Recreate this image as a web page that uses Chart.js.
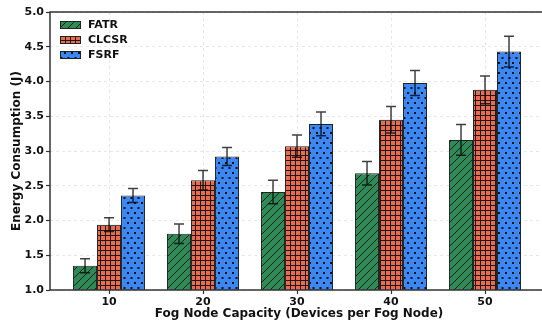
<!DOCTYPE html>
<html>
<head>
<meta charset="utf-8">
<script src="https://cdn.jsdelivr.net/npm/chart.js@4/dist/chart.umd.min.js"></script>
<style>
html,body{margin:0;padding:0;background:#fff;overflow:hidden;width:542px;height:326px;}
canvas{display:block;}
</style>
</head>
<body>
<canvas id="c" width="552" height="326"></canvas>
<script>
// ---- data ----
const categories = ['10', '20', '30', '40', '50'];
const seriesNames = ['FATR', 'CLCSR', 'FSRF'];
const fatr  = [1.35, 1.81, 2.41, 2.68, 3.16];
const clcsr = [1.94, 2.58, 3.07, 3.45, 3.88];
const fsrf  = [2.36, 2.92, 3.39, 3.98, 4.43];
const fatrErr  = [0.10, 0.14, 0.17, 0.17, 0.22];
const clcsrErr = [0.10, 0.14, 0.16, 0.19, 0.20];
const fsrfErr  = [0.10, 0.13, 0.17, 0.18, 0.22];
const yTicks = [1.0, 1.5, 2.0, 2.5, 3.0, 3.5, 4.0, 4.5, 5.0];

// ---- patterns ----
function makePattern(kind, color) {
  const t = document.createElement('canvas');
  const g = t.getContext('2d');
  if (kind === 'diag') {
    t.width = 8; t.height = 8;
    g.fillStyle = color; g.fillRect(0,0,8,8);
    g.strokeStyle = '#111'; g.lineWidth = 0.9;
    g.beginPath();
    g.moveTo(0,8); g.lineTo(8,0);
    g.moveTo(-4,4); g.lineTo(4,-4);
    g.moveTo(4,12); g.lineTo(12,4);
    g.stroke();
  } else if (kind === 'grid') {
    t.width = 5; t.height = 5;
    g.fillStyle = color; g.fillRect(0,0,5,5);
    g.fillStyle = '#1a1a1a';
    g.fillRect(0,0,1,5);
    g.fillRect(0,0,5,1);
  } else {
    t.width = 7; t.height = 10;
    g.fillStyle = color; g.fillRect(0,0,7,10);
    g.fillStyle = '#111';
    g.fillRect(1,2,2,2);
    g.fillRect(4.5,7,2,2);
  }
  return g.createPattern(t, 'repeat');
}
const ctx0 = document.getElementById('c').getContext('2d');
const baseColors = ['#2e8b57', '#ec6a4e', '#3b88f5'];
const kinds = ['diag', 'grid', 'dots'];
const patterns = kinds.map((k,i) => makePattern(k, baseColors[i]));

const values = [fatr, clcsr, fsrf];
const errors = [fatrErr, clcsrErr, fsrfErr];

const datasets = seriesNames.map((name, s) => ({
  label: name,
  data: values[s].map((v, i) => ({x: i, y: v})),
  errs: errors[s],
  backgroundColor: patterns[s],
  borderColor: '#222',
  borderWidth: 1,
  borderSkipped: 'bottom',
  categoryPercentage: 0.766,
  barPercentage: 1.0
}));

const FONT = "'DejaVu Sans', sans-serif";

const errorBars = {
  id: 'errorBars',
  afterDatasetsDraw(chart) {
    const c = chart.ctx, ys = chart.scales.y;
    c.save();
    c.strokeStyle = 'rgba(0,0,0,0.75)';
    c.lineWidth = 1.5;
    chart.data.datasets.forEach((ds, di) => {
      const meta = chart.getDatasetMeta(di);
      meta.data.forEach((bar, i) => {
        const v = ds.data[i].y, e = ds.errs[i];
        const yt = ys.getPixelForValue(v + e), yb = ys.getPixelForValue(v - e);
        const x = bar.x;
        c.beginPath();
        c.moveTo(x, yt); c.lineTo(x, yb);
        c.moveTo(x - 5, yt); c.lineTo(x + 5, yt);
        c.moveTo(x - 5, yb); c.lineTo(x + 5, yb);
        c.stroke();
      });
    });
    c.restore();
  }
};

const frame = {
  id: 'frame',
  afterDraw(chart) {
    const c = chart.ctx, a = chart.chartArea;
    c.save();
    c.strokeStyle = '#333';
    c.lineWidth = 1.5;
    c.strokeRect(a.left, a.top, a.right - a.left, a.bottom - a.top);
    // legend
    c.font = "bold 11px " + FONT;
    c.textBaseline = 'middle';
    c.textAlign = 'left';
    chart.data.datasets.forEach((ds, i) => {
      const yc = 25 + i * 15;
      c.fillStyle = ds.backgroundColor;
      c.fillRect(60, yc - 4, 20, 8);
      c.lineWidth = 1;
      c.strokeStyle = '#222';
      c.strokeRect(60.5, yc - 3.5, 20, 7);
      c.fillStyle = '#111';
      c.fillText(ds.label, 88, yc + 0.5);
    });
    c.restore();
  }
};

new Chart(ctx0, {
  type: 'bar',
  data: { datasets },
  options: {
    responsive: false,
    animation: false,
    devicePixelRatio: 1,
    layout: { padding: { left: 0, right: 4, top: 12, bottom: 0 } },
    plugins: { legend: { display: false }, tooltip: { enabled: false } },
    scales: {
      x: {
        type: 'linear',
        offset: false,
        min: -0.628,
        max: 4.67,
        afterBuildTicks(scale) { scale.ticks = categories.map((_, i) => ({ value: i })); },
        afterFit(scale) { scale.height = 36; },
        ticks: {
          callback: (v) => categories[v],
          font: { family: FONT, weight: 'bold', size: 11 },
          color: '#111',
          padding: 2,
          maxRotation: 0
        },
        grid: { offset: false, color: 'rgba(0,0,0,0.12)', lineWidth: 0.8, tickColor: '#333', tickLength: 4, tickWidth: 1.2 },
        border: { display: false, dash: [3, 3] },
        title: {
          display: true,
          text: 'Fog Node Capacity (Devices per Fog Node)',
          font: { family: FONT, weight: 'bold', size: 12 },
          color: '#111',
          padding: { top: 0, bottom: 5 }
        }
      },
      y: {
        min: 1.0,
        max: 5.0,
        afterBuildTicks(scale) { scale.ticks = yTicks.map(v => ({ value: v })); },
        afterFit(scale) { scale.width = 50; },
        ticks: {
          callback: (v) => v.toFixed(1),
          font: { family: FONT, weight: 'bold', size: 11 },
          color: '#111',
          padding: 2
        },
        grid: { offset: false, color: 'rgba(0,0,0,0.12)', lineWidth: 0.8, tickColor: '#333', tickLength: 4, tickWidth: 1.2 },
        border: { display: false, dash: [3, 3] },
        title: {
          display: true,
          text: 'Energy Consumption (J)',
          font: { family: FONT, weight: 'bold', size: 12 },
          color: '#111',
          padding: { top: 10, bottom: 0 }
        }
      }
    }
  },
  plugins: [errorBars, frame]
});
</script>
</body>
</html>
